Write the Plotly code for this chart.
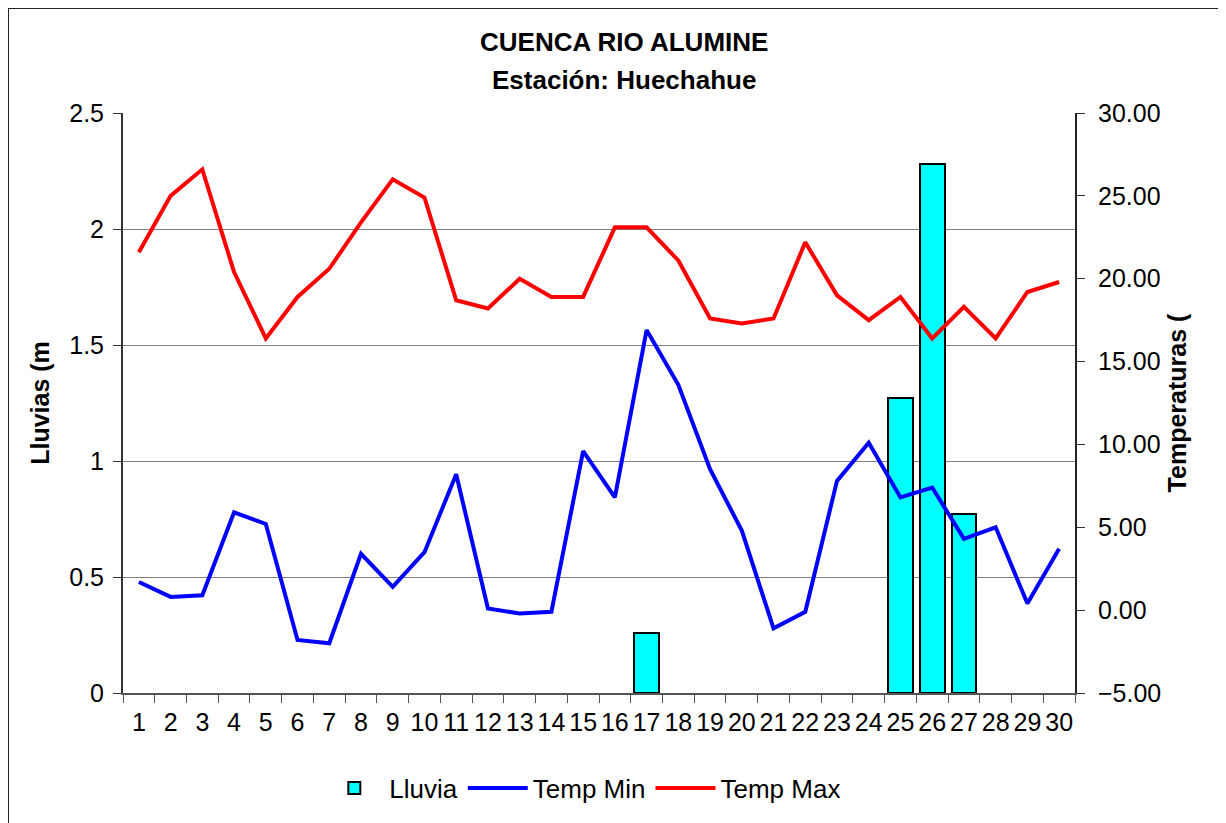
import plotly.graph_objects as go

# datos (dias 1..30)
dias = [str(d) for d in range(1, 31)]

lluvia = [0, 0, 0, 0, 0, 0, 0, 0, 0, 0,
          0, 0, 0, 0, 0, 0, 0.26, 0, 0, 0,
          0, 0, 0, 0, 1.27, 2.28, 0.77, 0, 0, 0]

temp_min = [1.7, 0.8, 0.9, 5.9, 5.2, -1.8, -2.0, 3.4, 1.4, 3.5,
            8.2, 0.1, -0.2, -0.1, 9.6, 6.8, 16.9, 13.6, 8.5, 4.8,
            -1.1, -0.1, 7.8, 10.1, 6.8, 7.4, 4.3, 5.0, 0.4, 3.7]

temp_max = [21.6, 25.0, 26.6, 20.4, 16.4, 18.9, 20.6, 23.4, 26.0, 24.9,
            18.7, 18.2, 20.0, 18.9, 18.9, 23.1, 23.1, 21.1, 17.6, 17.3,
            17.6, 22.2, 19.0, 17.5, 18.9, 16.4, 18.3, 16.4, 19.2, 19.8]

FONT = "Liberation Sans, Arial, sans-serif"

fig = go.Figure()

# los dias sin lluvia no dibujan barra
fig.add_trace(go.Bar(x=dias, y=[v if v > 0 else None for v in lluvia], name="Lluvia",
                     width=0.78,
                     marker=dict(color="#00FFFF", line=dict(color="black", width=2)),
                     yaxis="y"))
fig.add_trace(go.Scatter(x=dias, y=temp_min, name="Temp Min", mode="lines",
                         line=dict(color="#0000FF", width=4), yaxis="y2"))
fig.add_trace(go.Scatter(x=dias, y=temp_max, name="Temp Max", mode="lines",
                         line=dict(color="#FF0000", width=4), yaxis="y2"))

# la pagina agrega 8px de margen al body
OFF = 8
W, H = 1226 - OFF, 823 - OFF
L, T = 123 - OFF, 113 - OFF
pw, ph = 952, 580
R, B = W - L - pw, H - T - ph


def px_x(p):
    return (p - OFF - L) / pw


def px_y(p):
    return (H - B - (p - OFF)) / ph


fig.update_layout(
    width=W, height=H,
    margin=dict(l=L, r=R, t=T, b=B),
    paper_bgcolor="white", plot_bgcolor="white",
    font=dict(family=FONT, size=25, color="black"),
    showlegend=True,
    bargap=0,
    xaxis=dict(type="category", showgrid=False, showline=True, linecolor="#555555",
               linewidth=2, ticks="outside", tickson="boundaries", ticklen=8,
               tickcolor="#555555", tickangle=0, ticklabelstandoff=6,
               tickfont=dict(size=25)),
    yaxis=dict(range=[0, 2.5], dtick=0.5, tick0=0, showgrid=True, gridcolor="#808080",
               gridwidth=1, showline=True, linecolor="#333333", linewidth=2,
               ticks="outside", ticklen=8, tickcolor="#333333", zeroline=False,
               tickfont=dict(size=25), ticklabelstandoff=4,
               title=dict(text="<b>Lluvias (m</b>", font=dict(size=25), standoff=12)),
    yaxis2=dict(range=[-5, 30], dtick=5, tick0=-5, overlaying="y", side="right",
                showgrid=False, showline=True, linecolor="#222222", linewidth=2,
                ticks="outside", ticklen=8, tickcolor="#333333", zeroline=False,
                tickformat=".2f", tickfont=dict(size=25), ticklabelstandoff=8,
                title=dict(text="<b>Temperaturas (</b>", font=dict(size=25), standoff=8)),
    legend=dict(orientation="h", x=0.483, xanchor="center", y=px_y(788), yanchor="middle",
                font=dict(size=26), itemwidth=60, traceorder="normal"),
    annotations=[
        dict(text="<b>CUENCA RIO ALUMINE</b>", x=px_x(624), y=px_y(42), xref="paper",
             yref="paper", showarrow=False, font=dict(size=26), xanchor="center",
             yanchor="middle"),
        dict(text="<b>Estación: Huechahue</b>", x=px_x(624), y=px_y(80), xref="paper",
             yref="paper", showarrow=False, font=dict(size=26), xanchor="center",
             yanchor="middle"),
    ],
    shapes=[
        dict(type="line", xref="paper", yref="paper", x0=px_x(7), x1=px_x(1240),
             y0=px_y(8), y1=px_y(8), line=dict(color="#222222", width=2)),
        dict(type="line", xref="paper", yref="paper", x0=px_x(8), x1=px_x(8),
             y0=px_y(7), y1=px_y(840), line=dict(color="#222222", width=2)),
    ],
)

fig.write_html("out.html")
